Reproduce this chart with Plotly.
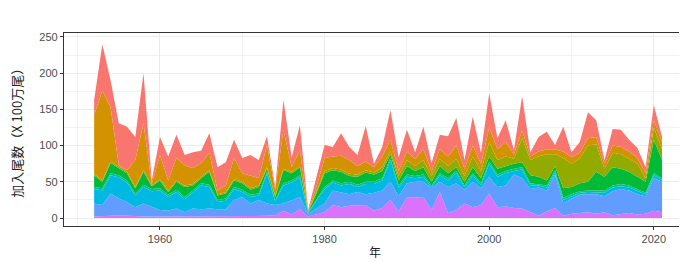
import plotly.graph_objects as go

years = list(range(1952, 2022))

# series values (bottom to top of the stack)
s_magenta = [2, 2, 3, 4, 3, 2, 2, 2, 2, 2, 2, 2, 2, 2, 2, 2, 2, 3, 3, 3,
             3, 3, 4, 10, 5, 12, 2, 5, 8, 18, 15, 17, 17, 18, 10, 14, 25, 9, 28, 29,
             29, 11, 36, 7, 11, 20, 15, 18, 34, 15, 16, 14, 13, 8, 3, 9, 14, 3, 6, 7,
             8, 6, 8, 4, 6, 7, 5, 6, 10, 8]
s_blue = [18, 16, 31, 23, 19, 13, 18, 13, 9, 8, 11, 6, 11, 10, 11, 10, 10, 22, 26, 17,
          22, 17, 14, 10, 20, 17, 4, 8, 12, 20, 21, 16, 19, 15, 25, 24, 25, 21, 20, 21,
          21, 30, 14, 36, 37, 19, 35, 23, 23, 28, 29, 46, 42, 32, 39, 29, 46, 17, 21, 25,
          25, 27, 22, 33, 34, 31, 28, 24, 45, 42]
s_cyan = [20, 20, 25, 29, 27, 16, 23, 22, 27, 19, 23, 18, 22, 33, 30, 10, 12, 15, 7, 9,
          6, 41, 5, 25, 24, 27, 1, 10, 20, 11, 9, 14, 7, 14, 12, 14, 30, 12, 9, 5,
          7, 2, 9, 9, 14, 4, 9, 4, 18, 14, 17, 5, 12, 5, 3, 4, 3, 5, 3, 3,
          3, 3, 5, 5, 4, 4, 4, 3, 4, 3]
s_teal = [3, 3, 3, 3, 3, 3, 3, 3, 3, 3, 3, 3, 3, 3, 3, 3, 3, 3, 3, 3,
          3, 3, 2, 3, 3, 3, 0.5, 2, 3, 3, 3, 3, 3, 3, 3, 3, 3, 3, 3, 3,
          3, 2, 3, 3, 3, 2, 3, 3, 3, 3, 3, 3, 3, 3, 2, 3, 3, 3, 3, 2,
          2, 2, 3, 3, 3, 3, 3, 2, 3, 2]
s_green = [16, 9, 14, 10, 10, 7, 18, 4, 11, 4, 11, 14, 7, 7, 18, 6, 7, 9, 9, 7,
           9, 4, 4, 18, 10, 11, 1, 9, 19, 14, 16, 8, 11, 13, 10, 10, 5, 7, 12, 7,
           10, 5, 10, 7, 5, 5, 8, 7, 7, 8, 7, 7, 7, 11, 10, 7, 6, 13, 10, 11,
           12, 26, 19, 25, 21, 19, 17, 15, 46, 25]
s_olive = [2, 2, 2, 2, 2, 2, 2, 1, 2, 2, 2, 2, 2, 2, 2, 2, 2, 2, 2, 2,
           2, 2, 2, 2, 2, 2, 1, 2, 3, 3, 3, 3, 3, 3, 3, 5, 4, 6, 8, 7,
           10, 8, 10, 10, 12, 8, 15, 10, 20, 12, 13, 7, 33, 21, 28, 36, 16, 42, 32, 34,
           50, 38, 11, 20, 20, 18, 18, 5, 17, 15]
s_brown = [81, 124, 75, 2, 2, 37, 65, 2, 33, 14, 31, 28, 22, 19, 24, 5, 9, 29, 12, 18,
           10, 31, 8, 54, 6, 22, 1, 7, 18, 16, 19, 19, 12, 12, 7, 15, 16, 7, 12, 10,
           15, 7, 13, 13, 18, 10, 15, 10, 20, 15, 20, 6, 11, 5, 7, 7, 7, 9, 9, 8,
           10, 10, 7, 10, 10, 10, 8, 7, 10, 10]
s_red = [21, 64, 37, 58, 60, 32, 69, 5, 25, 33, 32, 14, 22, 17, 27, 32, 32, 25, 21, 28,
         25, 12, 4, 41, 14, 34, 1, 12, 18, 13, 31, 18, 15, 49, 5, 13, 41, 19, 30, 9,
         31, 11, 20, 28, 38, 12, 40, 15, 47, 15, 30, 6, 47, 6, 20, 24, 6, 34, 7, 15,
         36, 23, 5, 23, 24, 16, 14, 8, 21, 7]

series = [
    ("G8", s_magenta, "#DB72FB"),
    ("G7", s_blue, "#619CFF"),
    ("G6", s_cyan, "#00B9E3"),
    ("G5", s_teal, "#00C19F"),
    ("G4", s_green, "#00BA38"),
    ("G3", s_olive, "#93AA00"),
    ("G2", s_brown, "#D39200"),
    ("G1", s_red, "#F8766D"),
]

fig = go.Figure()
for name, vals, col in series:
    fig.add_trace(go.Scatter(
        x=years, y=vals, name=name, mode="lines",
        stackgroup="one", line=dict(width=0, color=col),
        fillcolor=col, hoverinfo="x+y+name"))

tickfont = dict(family="Liberation Sans, Arial, sans-serif", size=11, color="#4D4D4D")
titlefont = dict(family="Noto Sans CJK JP", size=13, color="#222222")
# page body has an 8px margin; the figure is sized to fit the 687x262 window
fig.update_layout(
    width=679, height=254,
    margin=dict(l=56, r=0, t=25, b=36, autoexpand=False),
    paper_bgcolor="white", plot_bgcolor="white",
    showlegend=False,
    xaxis=dict(
        range=[1948.34, 2024.03], tick0=1960, dtick=20, automargin=False,
        showgrid=True, gridcolor="#EBEBEB", gridwidth=1.1,
        minor=dict(dtick=10, tick0=1950, showgrid=True, gridcolor="#F2F2F2", gridwidth=0.6),
        ticks="outside", ticklen=3, tickcolor="#333333", tickwidth=1,
        showline=True, linecolor="#333333", linewidth=1.2, mirror=True,
        zeroline=False, tickfont=tickfont,
    ),
    yaxis=dict(
        range=[-11.0, 255.5], tick0=0, dtick=50, automargin=False,
        showgrid=True, gridcolor="#EBEBEB", gridwidth=1.1,
        minor=dict(dtick=25, tick0=0, showgrid=True, gridcolor="#F2F2F2", gridwidth=0.6),
        ticks="outside", ticklen=3, tickcolor="#333333", tickwidth=1,
        showline=True, linecolor="#333333", linewidth=1.2, mirror=True,
        zeroline=False, tickfont=tickfont,
    ),
    annotations=[
        dict(text="年", xref="paper", yref="paper", x=0.499, y=-0.133,
             xanchor="center", yanchor="middle", showarrow=False,
             font=dict(family="Noto Sans CJK JP", size=12, color="#222222")),
        dict(text="加入尾数（X 100万尾）", xref="paper", yref="paper",
             x=-0.0765, y=0.5, xanchor="center", yanchor="middle",
             textangle=-90, showarrow=False, font=titlefont),
    ],
)

fig.write_html("out.html")
